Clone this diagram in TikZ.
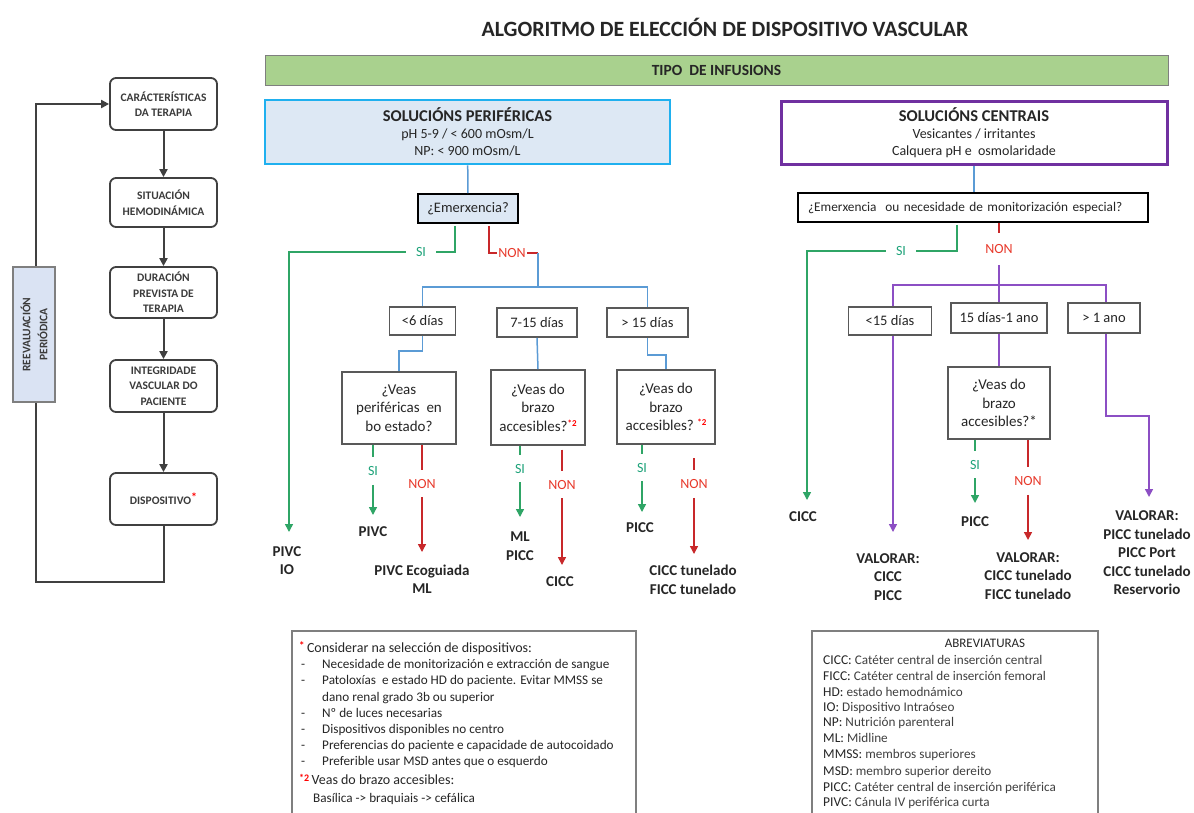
\documentclass[tikz,border=0pt]{standalone}
\usepackage{fontspec}
\setmainfont{Carlito}
\usetikzlibrary{arrows.meta,calc}
\definecolor{txt}{HTML}{262626}
\definecolor{dk}{HTML}{404040}
\definecolor{lefttxt}{HTML}{3B3B3B}
\definecolor{gray7}{HTML}{7F7F7F}
\definecolor{boxgray}{HTML}{595959}
\definecolor{barg}{HTML}{A9D18E}
\definecolor{cyanb}{HTML}{1FB0EF}
\definecolor{lblue}{HTML}{DDE8F4}
\definecolor{reevf}{HTML}{DAE3F3}
\definecolor{purpB}{HTML}{7030A0}
\definecolor{gcol}{HTML}{2FA566}
\definecolor{rcol}{HTML}{C8282A}
\definecolor{bcol}{HTML}{5B9BD5}
\definecolor{pcol}{HTML}{8C4FC4}
\definecolor{sitxt}{HTML}{1EA37A}
\definecolor{nontxt}{HTML}{E8392B}
\definecolor{dtxt}{HTML}{404040}
\tikzset{
  every node/.style={text=txt, inner sep=0pt},
  lbox/.style={draw=dk, line width=1.8pt, rounded corners=6pt, minimum width=107pt, minimum height=52pt, align=center, font=\bfseries\fontsize{11.5}{15.5}\selectfont, text=lefttxt},
  larr/.style={draw=dk, line width=2pt, -{Triangle[width=8pt,length=8pt]}},
  dbox/.style={draw=boxgray, line width=1.6pt, fill=white, minimum height=29pt, font=\fontsize{14.5}{16}\selectfont},
  qbox/.style={draw=boxgray, line width=1.6pt, fill=white, align=center, font=\fontsize{15}{18.5}\selectfont},
  silbl/.style={text=sitxt, font=\fontsize{14}{15}\selectfont, inner ysep=9pt, inner xsep=2pt},
  nonlbl/.style={text=nontxt, font=\fontsize{14}{15}\selectfont, inner ysep=9pt, inner xsep=2pt},
  res/.style={align=center, font=\bfseries\fontsize{15}{18.5}\selectfont},
  gline/.style={draw=gcol, line width=1.5pt},
  rline/.style={draw=rcol, line width=1.5pt},
  bline/.style={draw=bcol, line width=1.5pt},
  pline/.style={draw=pcol, line width=1.5pt},
  tip/.style={-{Triangle[width=8pt,length=8pt]}},
  ntxt/.style={anchor=base west, font=\fontsize{13.2}{14}\selectfont},
  abtxt/.style={anchor=base west, font=\fontsize{13.5}{14}\selectfont},
}
\newcommand{\ab}[2]{#1{\color{dtxt}\fontsize{13.2}{14}\selectfont#2}}
\begin{document}
\begin{tikzpicture}[x=1pt,y=-1pt]
\useasboundingbox (0,0) rectangle (1194,812);
\fill[white] (0,0) rectangle (1194,812);

% ---------- left column ----------
\node[lbox] (b1) at (163.5,104) {CARÁCTERÍSTICAS\\DA TERAPIA};
\node[lbox, minimum height=49pt] (b2) at (163.5,202.5) {SITUACIÓN\\HEMODINÁMICA};
\node[lbox, minimum height=51pt] (b3) at (163.5,292.5) {DURACIÓN\\PREVISTA DE\\TERAPIA};
\node[lbox] (b4) at (163.5,386) {INTEGRIDADE\\VASCULAR DO\\PACIENTE};
\node[lbox] (b5) at (163.5,499) {DISPOSITIVO\textcolor{red}{\raisebox{3pt}{\fontsize{12}{12}\selectfont*}}};
\draw[larr] (b1) -- (b2);
\draw[larr] (b2) -- (b3);
\draw[larr] (b3) -- (b4);
\draw[larr] (b4) -- (b5);
\coordinate (lb) at (36,582);
\coordinate (lt) at (36,104);
\draw[larr] (b5.south) |- (lb) -- (lt) -- (b1.west);
\node[draw=gray7, fill=reevf, line width=1.2pt, minimum width=42pt, minimum height=135pt] (reev) at (34,334.5) {};
\node[rotate=90, align=center, font=\bfseries\fontsize{11.5}{17}\selectfont, text=lefttxt] (reevt) at (reev.center) {REEVALUACIÓN\\PERIÓDICA};

% ---------- header ----------
\node[font=\bfseries\fontsize{21.8}{24}\selectfont] (title) at (725,27) {ALGORITMO DE ELECCIÓN DE DISPOSITIVO VASCULAR};
\node[draw=gray7, fill=barg, line width=1pt, minimum width=903pt, minimum height=30pt, font=\bfseries\fontsize{15.5}{16}\selectfont] (tipo) at (716.5,70) {TIPO\ \ DE INFUSIONS};

% ---------- peripheral branch ----------
\node[draw=cyanb, fill=lblue, line width=2.5pt, minimum width=405pt, minimum height=64pt, align=center, font=\fontsize{14}{17}\selectfont] (per) at (467.5,132) {{\bfseries\fontsize{16.5}{20}\selectfont SOLUCIÓNS PERIFÉRICAS}\\pH 5-9 / < 600 mOsm/L\\NP: < 900 mOsm/L};
\node[draw=black, fill=lblue, line width=1.8pt, minimum width=100pt, minimum height=29pt, font=\fontsize{14.5}{16}\selectfont] (em1) at (468,208.5) {¿Emerxencia?};
\draw[bline] (per) -- (em1);

\node[silbl, inner xsep=10pt] (si0) at (421,252) {SI};
\coordinate (a0) at (289,532);
\draw[gline] ($(em1.south)+(-13,2)$) |- (si0.east);
\draw[gline, tip] (si0.west) -| (a0);
\node[res] (r0) at (287,560.5) {PIVC\\IO};

\node[nonlbl, inner xsep=1.5pt] (non0) at (512,253) {NON};
\coordinate (nr) at (538,253);
\coordinate (hb) at (538,287);
\draw[rline] ($(em1.south)+(21,2)$) |- (non0.west);
\draw[rline] (non0.east) -- (nr);
\draw[bline] (nr) -- (hb);

\node[dbox, minimum width=66pt, minimum height=28pt] (d1) at (422.5,321) {<6 días};
\node[dbox, minimum width=80pt] (d2) at (537,322.5) {7-15 días};
\node[dbox, minimum width=81pt] (d3) at (647.5,322.5) {> 15 días};
\draw[bline] (d1.north) -- (d1.north |- hb) -- (d3.north |- hb) -- (d3.north);

\node[qbox, minimum width=114pt, minimum height=72pt] (q1) at (399,408) {¿Veas\\periféricas\ \ en\\bo estado?};
\node[qbox, minimum width=94pt, minimum height=75pt] (q2) at (538,407.5) {¿Veas do\\brazo\\accesibles?\textcolor{red}{\raisebox{5pt}{\fontsize{9}{9}\selectfont\bfseries *2}}};
\node[qbox, minimum width=98pt, minimum height=74pt] (q3) at (666,407) {¿Veas do\\brazo\\accesibles?\ \textcolor{red}{\raisebox{5pt}{\fontsize{9}{9}\selectfont\bfseries *2}}};
\draw[bline] (d1.south) -- ++(0,15) -| (q1.north);
\draw[bline] (d2.south) -- (q2.north);
\draw[bline] (d3.south) -- ++(0,17) -| (q3.north);

% below q1
\node[silbl] (s1) at (373,471) {SI};
\coordinate (t1) at (373,515);
\draw[gline] (q1.south -| s1) -- (s1.north);
\draw[gline, tip] (s1.south) -- (t1);
\node[res] (r1) at (373,532) {PIVC};
\node[nonlbl] (n1) at (422,483.5) {NON};
\coordinate (u1) at (422,552);
\draw[rline] (q1.south -| n1) -- (n1.north);
\draw[rline, tip] (n1.south) -- (u1);
\node[res] (r2) at (422,579) {PIVC Ecoguiada\\ML};

% below q2
\node[silbl] (s2) at (520,468.5) {SI};
\coordinate (t2) at (520,517);
\draw[gline] (q2.south -| s2) -- (s2.north);
\draw[gline, tip] (s2.south) -- (t2);
\node[res] (r3) at (520,546) {ML\\PICC};
\node[nonlbl] (n2) at (562,484.5) {NON};
\coordinate (u2) at (562,565);
\draw[rline] ($(n2.north)+(0,-21)$) -- (n2.north);
\draw[rline, tip] (n2.south) -- (u2);
\node[res] (r4) at (560,582) {CICC};

% below q3
\node[silbl] (s3) at (642,467.5) {SI};
\coordinate (t3) at (642,512);
\draw[gline] (q3.south -| s3) -- (s3.north);
\draw[gline, tip] (s3.south) -- (t3);
\node[res] (r5) at (640,528) {PICC};
\node[nonlbl] (n3) at (694,484) {NON};
\coordinate (u3) at (694,554);
\draw[rline] ($(n3.north)+(0,-12)$) -- (n3.north);
\draw[rline, tip] (n3.south) -- (u3);
\node[res] (r6) at (693,580) {CICC tunelado\\FICC tunelado};

% ---------- central branch ----------
\node[draw=purpB, fill=white, line width=3pt, minimum width=386pt, minimum height=63pt, align=center, font=\fontsize{14}{17}\selectfont] (cen) at (974,132.5) {{\bfseries\fontsize{16.5}{20}\selectfont SOLUCIÓNS CENTRAIS}\\Vesicantes / irritantes\\Calquera pH e\ \ osmolaridade};
\node[draw=black, fill=white, line width=1.8pt, minimum width=350pt, minimum height=29pt, text width=330pt, inner xsep=10pt, align=left, font=\fontsize{13.3}{15}\selectfont] (em2) at (973,207.5) {¿Emerxencia\ \ ou necesidade de monitorización especial?};
\draw[bline] (em2.north -| cen.south) -- (cen.south);

\node[silbl, inner xsep=10pt] (si4) at (901,251) {SI};
\coordinate (a4) at (807,500);
\draw[gline] ($(em2.south)+(-16,2)$) |- (si4.east);
\draw[gline, tip] (si4.west) -| (a4);
\node[res] (r7) at (803,517) {CICC};

\node[nonlbl, inner ysep=11pt] (non4) at (999,249) {NON};
\coordinate (hp) at (999,285);
\draw[rline] (em2.south -| non4) -- (non4.north);
\draw[pline] (non4.south) -- (hp);

\node[dbox, minimum width=83pt, minimum height=28pt] (d4) at (890,321) {<15 días};
\node[dbox, minimum width=96pt, minimum height=30pt] (d5) at (999,318) {15 días-1 ano};
\node[dbox, minimum width=72pt, minimum height=30pt] (d6) at (1104,318) {> 1 ano};
\coordinate (lx) at (893,285);
\coordinate (rx) at (1106,285);
\draw[pline] (lx |- d4.north) -- (lx) -- (rx) -- (rx |- d6.north);
\draw[pline] (hp) -- (d5.north);

\coordinate (a5) at (893,532);
\draw[pline, tip] (lx |- d4.south) -- (a5);
\node[res] (r8) at (888,577) {VALORAR:\\CICC\\PICC};

\node[qbox, minimum width=102pt, minimum height=72pt] (q5) at (999,403) {¿Veas do\\brazo\\accesibles?*};
\draw[pline] (d5.south) -- (q5.north);
\node[silbl] (s5) at (975,464.5) {SI};
\coordinate (t5) at (975,503);
\draw[gline] (q5.south -| s5) -- (s5.north);
\draw[gline, tip] (s5.south) -- (t5);
\node[res] (r9) at (975,522) {PICC};
\node[nonlbl] (n5) at (1028,481) {NON};
\coordinate (u5) at (1028,540);
\draw[rline] (q5.south -| n5) -- (n5.north);
\draw[rline, tip] (n5.south) -- (u5);
\node[res] (r10) at (1028,576) {VALORAR:\\CICC tunelado\\FICC tunelado};

\coordinate (k6) at (1106,416);
\coordinate (a6) at (1149,497);
\draw[pline, tip] (rx |- d6.south) -- (k6) -| (a6);
\node[res] (r11) at (1147,553) {VALORAR:\\PICC tunelado\\PICC Port\\CICC tunelado\\Reservorio};

% ---------- notes ----------
\coordinate (n1a) at (292,816);
\coordinate (n1b) at (292,631);
\coordinate (n1c) at (636,631);
\coordinate (n1d) at (636,816);
\draw[draw=gray7, line width=1.5pt] (n1a) -- (n1b) -- (n1c) -- (n1d);
\node[ntxt, font=\fontsize{14}{15}\selectfont] (h1) at (299,652.5) {\textcolor{red}{\raisebox{3pt}{\fontsize{11}{11}\selectfont\bfseries *}}\,Considerar na selección de dispositivos:};
\foreach \yy/\tt [count=\i] in {668/Necesidade de monitorización e extracción de sangue, 684/Patoloxías\ \ e estado HD do paciente. Evitar MMSS se, 717/Nº de luces necesarias, 733/Dispositivos disponibles no centro, 749/Preferencias do paciente e capacidade de autocoidado, 765/Preferible usar MSD antes que o esquerdo}{
  \node[ntxt] (dash\i) at (301,\yy) {-};
  \node[ntxt] (bl\i) at (322,\yy) {\tt};
}
\node[ntxt] (bl7) at (322,701) {dano renal grado 3b ou superior};
\node[ntxt, font=\fontsize{14}{15}\selectfont] (h2) at (299,784.5) {\textcolor{red}{\raisebox{3pt}{\fontsize{10}{10}\selectfont\bfseries *2}}\,Veas do brazo accesibles:};
\node[ntxt] (bl8) at (313,802) {Basílica -> braquiais -> cefálica};

\coordinate (n2a) at (812,816);
\coordinate (n2b) at (812,631);
\coordinate (n2c) at (1098,631);
\coordinate (n2d) at (1098,816);
\draw[draw=gray7, line width=1.5pt] (n2a) -- (n2b) -- (n2c) -- (n2d);
\node[font=\fontsize{13}{14}\selectfont] (abt) at (985,643) {ABREVIATURAS};
\node[abtxt] (ab1) at (823,664) {\ab{CICC:}{ Catéter central de inserción central}};
\node[abtxt] (ab2) at (823,680) {\ab{FICC:}{ Catéter central de inserción femoral}};
\node[abtxt] (ab3) at (823,696) {\ab{HD:}{ estado hemodnámico}};
\node[abtxt] (ab4) at (823,711) {\ab{IO:}{ Dispositivo Intraóseo}};
\node[abtxt] (ab5) at (823,726) {\ab{NP:}{ Nutrición parenteral}};
\node[abtxt] (ab6) at (823,742) {\ab{ML:}{ Midline}};
\node[abtxt] (ab7) at (823,758) {\ab{MMSS:}{ membros superiores}};
\node[abtxt] (ab8) at (823,775) {\ab{MSD:}{ membro superior dereito}};
\node[abtxt] (ab9) at (823,791) {\ab{PICC:}{ Catéter central de inserción periférica}};
\node[abtxt] (ab10) at (823,806) {\ab{PIVC:}{ Cánula IV periférica curta}};
\end{tikzpicture}
\end{document}
